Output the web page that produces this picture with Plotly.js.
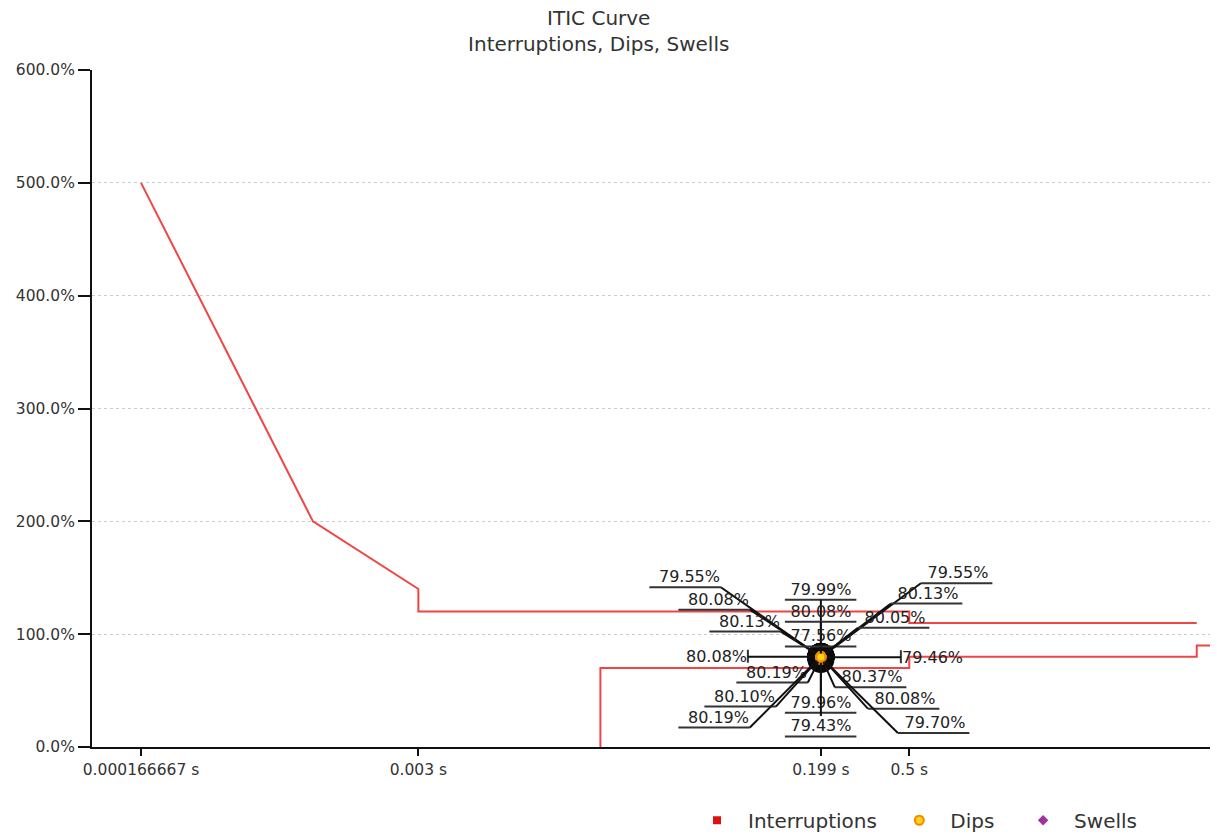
<!DOCTYPE html>
<html><head><meta charset="utf-8">
<script src="https://cdn.plot.ly/plotly-3.0.1.min.js"></script>
<style>html,body{margin:0;padding:0;background:#fff}</style>
</head><body><div id="chart" style="width:1217px;height:837px"></div>
<script>
// ITIC tolerance curve (duration in s, magnitude in %)
const iticUpperDur = [0.000166667, 0.001, 0.003, 0.003, 0.5, 0.5, 10];
const iticUpperPct = [500, 200, 140, 120, 120, 110, 110];
const iticLowerDur = [0.02, 0.02, 0.5, 0.5, 10, 10, 100];
const iticLowerPct = [0, 70, 70, 80, 80, 90, 90];

// recorded events
const dipDur = [0.199,0.199,0.199,0.199,0.199,0.199,0.199,0.199,0.199,0.199,0.199,0.199,0.199,0.199,0.199,0.199,0.199,0.199,0.199];
const dipPct = [79.55,80.08,80.13,80.08,80.19,80.10,80.19,79.99,80.08,77.56,79.96,79.43,79.55,80.13,80.05,79.46,80.37,80.08,79.70];
const interruptDur = [null];   // no interruptions recorded
const interruptPct = [null];
const swellDur = [null];       // no swells recorded
const swellPct = [null];

const tickVals = [0.000166667, 0.003, 0.199, 0.5];
const tickText = ['0.000166667 s', '0.003 s', '0.199 s', '0.5 s'];
const seriesNames = ['Interruptions', 'Dips', 'Swells'];

// legend spacing (trailing non-breaking spaces per entry)
const legendPad = [1, 2, 0];

// label placement (pixel offsets of the leader tail from each point)
const labelPlace = [
  {ax:-100, ay:-70, side:'L'},
  {ax:-71, ay:-47, side:'L'},
  {ax:-40, ay:-25, side:'L'},
  {ax:-73, ay:0, side:'ML'},
  {ax:-13, ay:26, side:'L'},
  {ax:-45, ay:50, side:'L'},
  {ax:-71, ay:71, side:'L'},
  {ax:0, ay:-57, side:'C'},
  {ax:0, ay:-35, side:'C'},
  {ax:0, ay:-13, side:'C'},
  {ax:0, ay:56, side:'C'},
  {ax:0, ay:79, side:'C'},
  {ax:100, ay:-74, side:'R'},
  {ax:70, ay:-53, side:'R'},
  {ax:37, ay:-29, side:'R'},
  {ax:80, ay:0, side:'MR'},
  {ax:14, ay:31, side:'R'},
  {ax:47, ay:52, side:'R'},
  {ax:77, ay:76, side:'R'}
];

const FONT = 'DejaVu Sans, Verdana, sans-serif';
const lineW = 72;

const anns = [];
dipPct.forEach((v, i) => {
  const p = labelPlace[i];
  const x = Math.log10(dipDur[i]);
  const a = {
    x: x, y: v, xref: 'x', yref: 'y',
    text: v.toFixed(2) + '%',
    showarrow: true, arrowhead: 0, arrowwidth: 2, arrowcolor: '#111',
    ax: p.ax, ay: p.ay, axref: 'pixel', ayref: 'pixel',
    standoff: 6, borderpad: 0, align: 'center',
    font: {family: FONT, size: 16, color: '#222'}
  };
  const b = {
    x: x, y: v, xref: 'x', yref: 'y', text: ' ',
    showarrow: true, arrowhead: 0, arrowwidth: 2, arrowcolor: '#333',
    axref: 'pixel', ayref: 'pixel', borderpad: 0,
    font: {family: FONT, size: 1, color: 'rgba(0,0,0,0)'}
  };
  if (p.side === 'L') {
    a.xanchor = 'right'; a.yanchor = 'bottom'; a.width = lineW - 2; a.align = 'right';
    b.xshift = p.ax; b.yshift = -p.ay; b.ax = -lineW; b.ay = 0;
  } else if (p.side === 'R') {
    a.xanchor = 'left'; a.yanchor = 'bottom'; a.width = lineW;
    b.xshift = p.ax; b.yshift = -p.ay; b.ax = lineW; b.ay = 0;
  } else if (p.side === 'C') {
    a.xanchor = 'center'; a.yanchor = 'bottom'; a.width = lineW;
    b.xshift = p.ax - lineW / 2; b.yshift = -p.ay; b.ax = lineW; b.ay = 0;
  } else if (p.side === 'ML') {
    a.xanchor = 'right'; a.yanchor = 'middle';
    b.xshift = p.ax; b.yshift = -p.ay + 7; b.ax = 0; b.ay = 14;
  } else {
    a.xanchor = 'left'; a.yanchor = 'middle';
    b.xshift = p.ax; b.yshift = -p.ay + 7; b.ax = 0; b.ay = 14;
  }
  anns.push(b);
  anns.push(a);
});

const legName = (i) => seriesNames[i] + '\u00a0'.repeat(legendPad[i]);

const traces = [
  {x: iticUpperDur, y: iticUpperPct, type: 'scatter', mode: 'lines',
   line: {color: '#f04545', width: 2}, showlegend: false, hoverinfo: 'skip'},
  {x: iticLowerDur, y: iticLowerPct, type: 'scatter', mode: 'lines',
   line: {color: '#f04545', width: 2}, showlegend: false, hoverinfo: 'skip'},
  {x: dipDur, y: dipPct, type: 'scatter', mode: 'markers',
   marker: {size: 27, color: '#0a0a0a'}, showlegend: false, hoverinfo: 'skip'},
  {x: interruptDur, y: interruptPct, type: 'scatter', mode: 'markers', name: legName(0),
   showlegend: true, marker: {symbol: 'square', size: 8, color: '#e01010'}},
  {x: dipDur, y: dipPct, type: 'scatter', mode: 'markers', name: legName(1),
   showlegend: true, marker: {symbol: 'circle', size: 9, color: '#ffd21a', line: {color: '#f08a00', width: 2}}},
  {x: swellDur, y: swellPct, type: 'scatter', mode: 'markers', name: legName(2),
   showlegend: true, marker: {symbol: 'diamond', size: 8, color: '#a0309c'}}
];

const layout = {
  width: 1217, height: 837,
  margin: {l: 92, r: 7, t: 70, b: 90},
  paper_bgcolor: '#fff', plot_bgcolor: '#fff',
  font: {family: FONT, color: '#333'},
  title: {
    text: 'ITIC Curve<br>Interruptions, Dips, Swells',
    font: {family: FONT, size: 20, color: '#333'},
    x: 0.492, xanchor: 'center', xref: 'container',
    y: 0.97, yanchor: 'top', yref: 'container'
  },
  xaxis: {
    type: 'log', range: [-4, 1.06],
    tickmode: 'array', tickvals: tickVals, ticktext: tickText,
    ticks: 'outside', ticklen: 7, tickwidth: 2, tickcolor: '#111',
    showline: true, linecolor: '#111', linewidth: 2,
    showgrid: false, zeroline: false,
    tickfont: {family: FONT, size: 15.5, color: '#333'}
  },
  yaxis: {
    range: [0, 600], dtick: 100, tick0: 0,
    tickformat: '.1f', ticksuffix: '%',
    ticks: 'outside', ticklen: 12, tickwidth: 2, tickcolor: '#111',
    showline: true, linecolor: '#111', linewidth: 2,
    showgrid: true, gridcolor: '#cccccc', griddash: 'dot', gridwidth: 1,
    zeroline: false,
    tickfont: {family: FONT, size: 15.5, color: '#333'}
  },
  legend: {
    orientation: 'h', xref: 'container', yref: 'container',
    x: 0.5637, xanchor: 'left', y: 0.02, yanchor: 'middle',
    itemwidth: 52,
    font: {family: FONT, size: 20, color: '#333'},
    bgcolor: 'rgba(0,0,0,0)'
  },
  annotations: anns,
  showlegend: true
};

Plotly.newPlot('chart', traces, layout, {displayModeBar: false, staticPlot: true});
</script></body></html>
